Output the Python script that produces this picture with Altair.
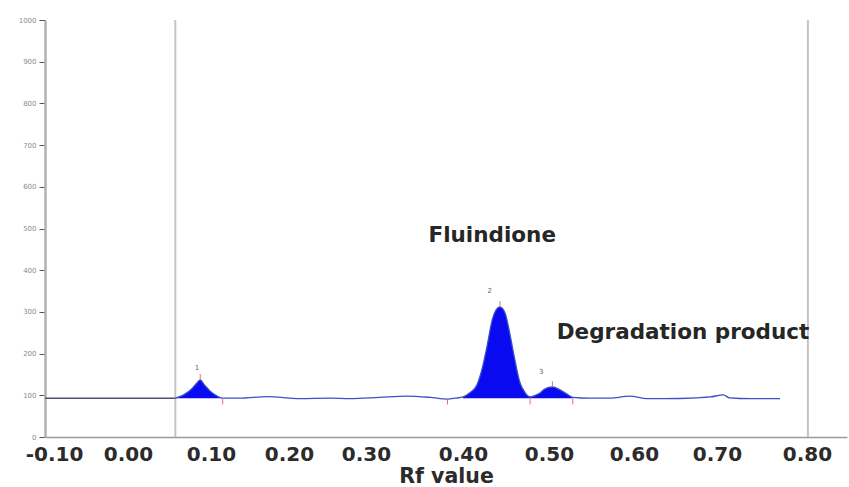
import altair as alt
import pandas as pd

# ---- data ----
# tick labels on the Rf axis
rf_ticks = [-0.10, 0.00, 0.10, 0.20, 0.30, 0.40, 0.50, 0.60, 0.70, 0.80]
y_ticks = [0, 100, 200, 300, 400, 500, 600, 700, 800, 900, 1000]

# scanned trace (Rf value, intensity)
trace_rf = [0.057, 0.066, 0.075, 0.082, 0.087, 0.092, 0.099, 0.108, 0.115, 0.137,
            0.172, 0.214, 0.253, 0.279, 0.314, 0.342, 0.366, 0.384, 0.392, 0.400,
            0.408, 0.416, 0.423, 0.428, 0.434, 0.438, 0.443, 0.449, 0.455, 0.460,
            0.466, 0.472, 0.478, 0.484, 0.490, 0.495, 0.504, 0.513, 0.521, 0.528,
            0.548, 0.572, 0.595, 0.616, 0.635, 0.676, 0.692, 0.707, 0.714, 0.737,
            0.770]
trace_int = [93, 100, 112, 127, 137, 125, 110, 98, 93, 93,
             97, 92, 93, 92, 95, 98, 95, 91, 93, 96,
             106, 124, 170, 218, 281, 303, 312, 297, 242, 188,
             132, 107, 96, 100, 106, 115, 120, 113, 103, 95,
             93, 93, 98, 92, 92, 94, 96, 101, 94, 92,
             92]

# baseline before the track start
pre_rf = [-0.112, 0.057]
pre_int = [93, 93]
baseline_level = 93

# integrated peaks
peak_ids = ["1", "2", "3"]
peak_start = [0.057, 0.400, 0.478]
peak_end = [0.115, 0.478, 0.528]
peak_top_rf = [0.087, 0.443, 0.504]
peak_top_int = [137, 312, 120]
peak_label_rf = [0.083, 0.431, 0.491]
peak_label_int = [165, 350, 156]

# peak boundary markers (red)
boundary_rf = [0.115, 0.384, 0.478, 0.528]

# track start / end lines
track_rf = [0.057, 0.801]

# annotations
ann_text = ["Fluindione", "Degradation product"]
ann_rf = [0.434, 0.659]
ann_int = [482, 249]

# ---- tables ----
trace = pd.DataFrame({"rf": trace_rf, "intensity": trace_int})
pre = pd.DataFrame({"rf": pre_rf, "intensity": pre_int})
rows = []
for pid, s, e in zip(peak_ids, peak_start, peak_end):
    sub = trace[(trace.rf >= s - 1e-9) & (trace.rf <= e + 1e-9)]
    for r, v in zip(sub.rf, sub.intensity):
        rows.append({"peak": pid, "rf": r, "intensity": v, "base": baseline_level})
fill = pd.DataFrame(rows)
tracks = pd.DataFrame({"rf": track_rf, "lo": [0, 0], "hi": [1000, 1000]})
bounds = pd.DataFrame({"rf": boundary_rf, "lo": [baseline_level] * 4,
                       "hi": [baseline_level - 15] * 4})
tops = pd.DataFrame({"rf": peak_top_rf, "lo": peak_top_int,
                     "hi": [v + 14 for v in peak_top_int]})
plabels = pd.DataFrame({"rf": peak_label_rf, "intensity": peak_label_int, "t": peak_ids})
ann = pd.DataFrame({"rf": ann_rf, "intensity": ann_int, "t": ann_text})

# ---- scales: the typed Rf labels are unevenly spaced, use a piecewise scale ----
x_scale = alt.Scale(
    domain=[-0.112] + rf_ticks + [0.844],
    range=[0, 9, 83, 166, 244, 321, 418, 504, 589, 672, 762, 802],
    nice=False, zero=False,
)
y_scale = alt.Scale(domain=[0, 1000], nice=False, zero=True)

x_axis = alt.Axis(
    values=rf_ticks,
    labelExpr="replace(format(datum.value, '.2f'), '\u2212', '-')",
    labelFont="DejaVu Sans", labelFontWeight="bold", labelFontSize=20,
    labelColor="#2b2b2b", labelPadding=7, labelOverlap=False, labelFlush=False,
    ticks=False, grid=False,
    domainColor="#9a9a9a", domainWidth=1.5,
    title="Rf value", titleFont="DejaVu Sans", titleFontWeight="bold",
    titleFontSize=20.5, titleColor="#2b2b2b", titlePadding=2,
)
y_axis = alt.Axis(
    values=y_ticks, format="d", title="", grid=False,
    labelFont="DejaVu Sans", labelFontSize=7, labelColor="#8c8c8c", labelPadding=3,
    tickColor="#555555", tickSize=6, tickWidth=1,
    domainColor="#b0b0b0", domainWidth=2.5,
)

X = lambda: alt.X("rf:Q", scale=x_scale, axis=x_axis)
Y = lambda: alt.Y("intensity:Q", scale=y_scale, axis=y_axis)

track_lines = alt.Chart(tracks).mark_rule(color="#c4c4c4", strokeWidth=2).encode(
    x=X(), y=alt.Y("lo:Q", scale=y_scale, axis=y_axis), y2="hi:Q")

areas = alt.Chart(fill).mark_area(color="#0a0af0", interpolate="monotone", opacity=1).encode(
    x=X(), y=Y(), y2="base:Q", detail="peak:N")

line = alt.Chart(trace).mark_line(color="#3c50c8", strokeWidth=1.3, interpolate="monotone").encode(
    x=X(), y=Y())

pre_line = alt.Chart(pre).mark_line(color="#50506e", strokeWidth=1.5).encode(x=X(), y=Y())

bound_rules = alt.Chart(bounds).mark_rule(color="#e07070", strokeWidth=1).encode(
    x=X(), y=alt.Y("lo:Q", scale=y_scale, axis=y_axis), y2="hi:Q")

top_rules = alt.Chart(tops).mark_rule(color="#e07070", strokeWidth=1).encode(
    x=X(), y=alt.Y("lo:Q", scale=y_scale, axis=y_axis), y2="hi:Q")

peak_text = alt.Chart(plabels).mark_text(font="DejaVu Sans", fontSize=7, color="#666666").encode(
    x=X(), y=Y(), text="t:N")

ann_text_layer = alt.Chart(ann).mark_text(
    font="DejaVu Sans", fontWeight="bold", fontSize=21.5, color="#262626",
    align="center", baseline="middle").encode(x=X(), y=Y(), text="t:N")

chart = alt.layer(
    track_lines, areas, line, pre_line, bound_rules, top_rules, peak_text, ann_text_layer
).properties(
    width=802, height=417,
    autosize=alt.AutoSizeParams(type="none"),
    padding={"left": 45, "top": 20, "right": 2, "bottom": 50},
    background="white",
).configure_view(strokeWidth=0)

chart.save("out.html", embed_options={"renderer": "svg", "actions": False})
